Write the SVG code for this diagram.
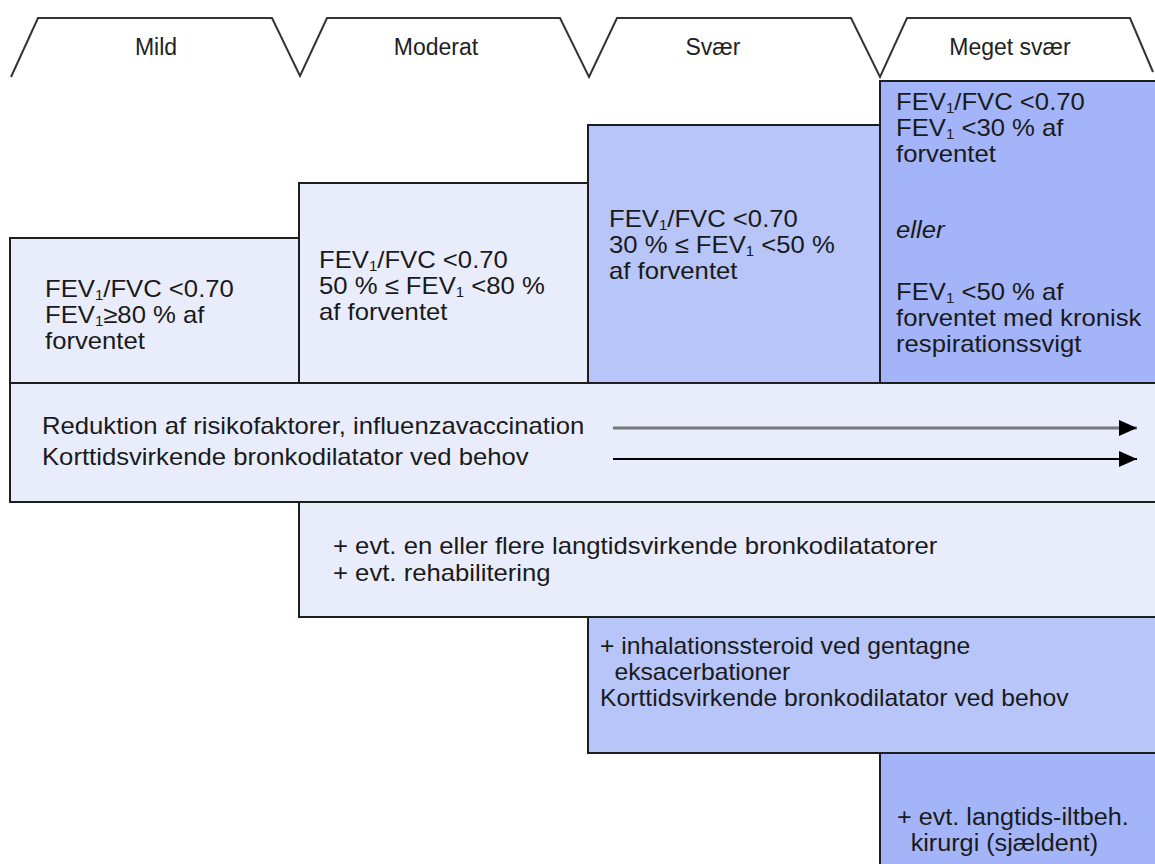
<svg xmlns="http://www.w3.org/2000/svg" width="1155" height="864" viewBox="0 0 1155 864">
<defs>
<style>
text{font-family:"Liberation Sans",Arial,sans-serif;font-size:24px;fill:#1a1a1a}
.hdr{font-size:23px;text-anchor:middle;fill:#222}
.sub{font-size:14px}
.light{fill:#E9EDFB;stroke:#1e1e1e;stroke-width:2}
.mid{fill:#B7C5F9;stroke:#1e1e1e;stroke-width:2}
.dark{fill:#A3B5F8;stroke:#1e1e1e;stroke-width:2}
</style>
<marker id="ah" viewBox="0 0 18 16" refX="18" refY="8" markerWidth="18" markerHeight="16" markerUnits="userSpaceOnUse" orient="auto">
<path d="M0,0 L18,8 L0,16 z" fill="#000"/>
</marker>
</defs>
<rect width="1155" height="864" fill="#fff"/>
<g id="header">
<path d="M11,77 L38,18 L272,18 L300,76 L327,18 L560,18 L589,77 L617,18 L851,18 L880,77 L907,18 L1130,18 L1153,72" fill="none" stroke="#333" stroke-width="2"/>
<text class="hdr" x="156" y="55">Mild</text>
<text class="hdr" x="436" y="55">Moderat</text>
<text class="hdr" x="713" y="55">Svær</text>
<text class="hdr" x="1010" y="55">Meget svær</text>
</g>
<g id="mild">
<rect class="light" x="10" y="238" width="289" height="145"/>
<g transform="translate(45 0) scale(1.07 1)">
<text x="0" y="297">FEV<tspan class="sub" dy="3">1</tspan><tspan dy="-3">/FVC &lt;0.70</tspan></text>
<text x="0" y="323">FEV<tspan class="sub" dy="3">1</tspan><tspan dy="-3">≥80 % af</tspan></text>
<text x="0" y="349">forventet</text>
</g>
</g>
<g id="moderat">
<rect class="light" x="299" y="183" width="289" height="200"/>
<g transform="translate(319 0) scale(1.07 1)">
<text x="0" y="268">FEV<tspan class="sub" dy="3">1</tspan><tspan dy="-3">/FVC &lt;0.70</tspan></text>
<text x="0" y="294">50 % ≤ FEV<tspan class="sub" dy="3">1</tspan><tspan dy="-3"> &lt;80 %</tspan></text>
<text x="0" y="320">af forventet</text>
</g>
</g>
<g id="svaer">
<rect class="mid" x="588" y="125" width="292" height="258"/>
<g transform="translate(609 0) scale(1.07 1)">
<text x="0" y="227">FEV<tspan class="sub" dy="3">1</tspan><tspan dy="-3">/FVC &lt;0.70</tspan></text>
<text x="0" y="253">30 % ≤ FEV<tspan class="sub" dy="3">1</tspan><tspan dy="-3"> &lt;50 %</tspan></text>
<text x="0" y="279">af forventet</text>
</g>
</g>
<g id="meget-svaer">
<rect class="dark" x="880" y="81" width="285" height="302"/>
<g transform="translate(896 0) scale(1.07 1)">
<text x="0" y="110">FEV<tspan class="sub" dy="3">1</tspan><tspan dy="-3">/FVC &lt;0.70</tspan></text>
<text x="0" y="136">FEV<tspan class="sub" dy="3">1</tspan><tspan dy="-3"> &lt;30 % af</tspan></text>
<text x="0" y="162">forventet</text>
<text x="0" y="238" font-style="italic">eller</text>
<text x="0" y="300">FEV<tspan class="sub" dy="3">1</tspan><tspan dy="-3"> &lt;50 % af</tspan></text>
<text x="0" y="326">forventet med kronisk</text>
<text x="0" y="352">respirationssvigt</text>
</g>
</g>
<g id="row-basis">
<rect class="light" x="10" y="383" width="1155" height="119"/>
<g transform="translate(42 0) scale(1.07 1)">
<text x="0" y="434">Reduktion af risikofaktorer, influenzavaccination</text>
<text x="0" y="465">Korttidsvirkende bronkodilatator ved behov</text>
</g>
</g>
<g id="row-langtid">
<rect class="light" x="299" y="502" width="866" height="115"/>
<g transform="translate(333 0) scale(1.07 1)">
<text x="0" y="554">+ evt. en eller flere langtidsvirkende bronkodilatatorer</text>
<text x="0" y="581">+ evt. rehabilitering</text>
</g>
</g>
<g id="row-steroid">
<rect class="mid" x="588" y="617" width="577" height="136"/>
<g transform="translate(600 0) scale(1.03 1)">
<text x="0" y="654">+ inhalationssteroid ved gentagne</text>
<text x="14" y="680">eksacerbationer</text>
<text x="0" y="706">Korttidsvirkende bronkodilatator ved behov</text>
</g>
</g>
<g id="row-ilt">
<rect class="dark" x="880" y="753" width="285" height="120"/>
<g transform="translate(897 0) scale(1.05 1)">
<text x="0" y="825">+ evt. langtids-iltbeh.</text>
<text x="13" y="851">kirurgi (sjældent)</text>
</g>
</g>
<g id="connectors">
<line x1="613" y1="428" x2="1137" y2="428" stroke="#777" stroke-width="3" marker-end="url(#ah)"/>
<line x1="613" y1="459" x2="1137" y2="459" stroke="#000" stroke-width="2" marker-end="url(#ah)"/>
</g>
</svg>
